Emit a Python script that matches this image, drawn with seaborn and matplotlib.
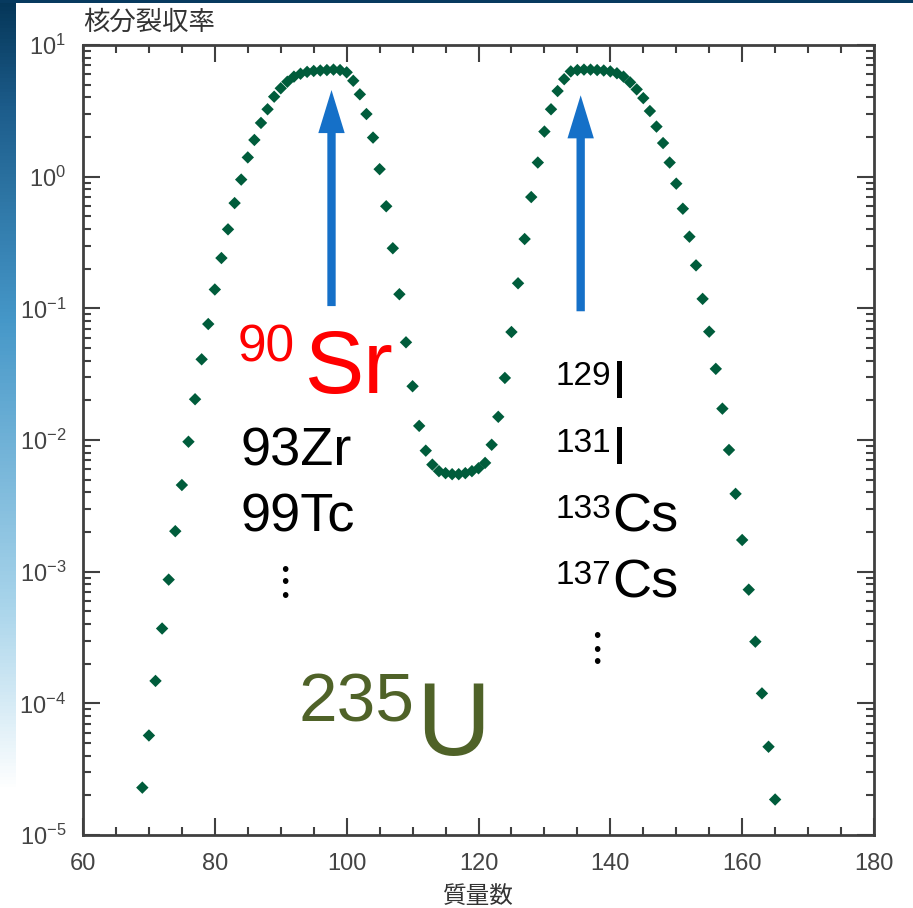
import numpy as np
import pandas as pd
import seaborn as sns
import matplotlib.pyplot as plt
from matplotlib.patches import Rectangle
from matplotlib.colors import LinearSegmentedColormap
from matplotlib.ticker import MultipleLocator, LogLocator, FuncFormatter, NullFormatter

# mass number and fission yield (%) for U-235
mass = list(range(69, 166))
fission_yield = [
    2.29e-5, 5.7e-5, 1.48e-4, 3.7e-4, 8.7e-4, 2.03e-3, 4.55e-3, 9.7e-3, 2.04e-2, 4.1e-2,   # 69-78
    7.6e-2, 0.139, 0.241, 0.398, 0.63, 0.95, 1.40, 1.90, 2.56, 3.25,                      # 79-88
    4.05, 4.69, 5.26, 5.75, 6.05, 6.25, 6.35, 6.4, 6.45, 6.5,                             # 89-98
    6.45, 6.2, 5.35, 4.22, 2.99, 1.98, 1.14, 0.596, 0.286, 0.128,                         # 99-108
    0.0552, 0.0256, 0.0128, 0.0083, 0.0065, 0.0058, 0.0056, 0.0055, 0.0055, 0.0056,       # 109-118
    0.0058, 0.0061, 0.0067, 0.0092, 0.0150, 0.0296, 0.0661, 0.155, 0.336, 0.70,           # 119-128
    1.28, 2.20, 3.25, 4.47, 5.5, 6.3, 6.45, 6.5, 6.5, 6.45,                               # 129-138
    6.4, 6.3, 6.1, 5.75, 5.2, 4.6, 3.95, 3.15, 2.4, 1.8,                                  # 139-148
    1.28, 0.885, 0.571, 0.350, 0.212, 0.118, 0.0665, 0.0347, 0.0173, 0.0084,              # 149-158
    0.0039, 0.00174, 7.3e-4, 2.94e-4, 1.19e-4, 4.68e-5, 1.86e-5,                          # 159-165
]

# arrows pointing at the two peaks
arrow_mass = [97.7, 135.5]
arrow_tail = [0.104, 0.095]
arrow_tip = [4.55, 4.15]

# nuclide labels: (mass number, symbol)
sr_label = ("90", "Sr")
left_list = ["93Zr", "99Tc"]
right_list = [("129", "I"), ("131", "I"), ("133", "Cs"), ("137", "Cs")]
u_label = ("235", "U")

x_label = "質量数"
y_label = "核分裂収率"

sns.set_style("ticks")
plt.rcParams["font.family"] = ["Liberation Sans", "Noto Sans CJK JP", "DejaVu Sans"]
plt.rcParams["mathtext.default"] = "regular"

W, H = 913, 908
fig = plt.figure(figsize=(W / 100, H / 100), dpi=100)
fig.patch.set_facecolor("white")

# slide decoration: gradient band on the left and a thin bar on top
band = fig.add_axes([0, 0, 16 / W, 1], zorder=-5)
band_cmap = LinearSegmentedColormap.from_list(
    "band", [(0, "#053658"), (0.12, "#1d5d8c"), (0.35, "#4597c8"),
             (0.66, "#a6d3ea"), (0.78, "#d8ecf6"), (0.87, "#ffffff"), (1, "#ffffff")])
band.imshow(np.linspace(0, 1, 256).reshape(-1, 1), aspect="auto", cmap=band_cmap,
            extent=[0, 1, 1, 0])
band.axis("off")
fig.add_artist(Rectangle((0, 1 - 3 / H), 1, 3 / H, transform=fig.transFigure,
                         facecolor="#073a5f", edgecolor="none"))

ax = fig.add_axes([83 / W, 73 / H, 791 / W, 790 / H])

df = pd.DataFrame({"mass": mass, "yield": fission_yield})
sns.scatterplot(data=df, x="mass", y="yield", marker="D", s=40, color="#005c3b",
                edgecolor="none", linewidth=0, ax=ax, legend=False, zorder=3)

ax.set_yscale("log")
ax.set_xlim(60, 180)
ax.set_ylim(1e-5, 10)

ax.xaxis.set_major_locator(MultipleLocator(20))
ax.xaxis.set_minor_locator(MultipleLocator(5))
ax.yaxis.set_major_locator(LogLocator(base=10, numticks=10))
ax.yaxis.set_minor_locator(LogLocator(base=10, subs=np.arange(2, 10), numticks=100))
ax.yaxis.set_minor_formatter(NullFormatter())
ax.yaxis.set_major_formatter(FuncFormatter(lambda v, p: r"$10^{%d}$" % round(np.log10(v))))

ax.tick_params(which="both", direction="in", top=True, right=True, color="#404040", width=1.5)
ax.tick_params(which="major", length=12)
ax.tick_params(which="minor", length=6)
ax.tick_params(axis="x", which="major", pad=13, labelsize=17, labelcolor="#444444")
ax.tick_params(axis="y", which="major", pad=12, labelsize=17, labelcolor="#444444")
for sp in ax.spines.values():
    sp.set_color("#404040")
    sp.set_linewidth(2)

ax.set_xlabel(x_label, fontsize=17, color="#333333", labelpad=7,
              family=["Noto Sans CJK JP", "DejaVu Sans"])
ax.set_ylabel("")
ax.text(0.0, 1.029, y_label, transform=ax.transAxes, ha="left", va="center",
        fontsize=19, color="#333333", family=["Noto Sans CJK JP", "DejaVu Sans"])

# blue arrows
for xm, y0, y1 in zip(arrow_mass, arrow_tail, arrow_tip):
    ax.annotate("", xy=(xm, y1), xytext=(xm, y0),
                arrowprops=dict(arrowstyle="simple,head_length=1.55,head_width=0.95,tail_width=0.3",
                                mutation_scale=20, color="#1570c8", lw=0,
                                shrinkA=0, shrinkB=0))


def at(px, py):
    # position in the axes box, from reference pixels
    return (px - 83) / 791, (835 - py) / 790


def put(px, py, s, size, color="black", **kw):
    x, y = at(px, py)
    ax.text(x, y, s, transform=ax.transAxes, ha="left", va="baseline",
            fontsize=size, color=color, **kw)


def vdots(px, py):
    # three stacked round dots as one text, centred on (px, py)
    x, y = at(px, py)
    ax.text(x, y, "\u2022\n\u2022\n\u2022", transform=ax.transAxes, ha="center",
            va="center", ma="center", fontsize=15, linespacing=0.6, color="black")


# left column
put(238, 362, sr_label[0], 37, "#ff0000")
put(305, 393, sr_label[1], 64, "#ff0000")
for i, s in enumerate(left_list):
    put(240, 466 + 66 * i, s, 39)
vdots(285, 583)

# right column
for i, (a, sym) in enumerate(right_list):
    put(555, 385 + 66.5 * i, a, 24)
    put(612, 398 + 66.5 * i, sym, 39)
vdots(597, 650)

# uranium
put(298, 722, u_label[0], 50, "#4f6228")
put(416, 755, u_label[1], 74, "#4f6228")

fig.savefig("out.png", dpi=100)
